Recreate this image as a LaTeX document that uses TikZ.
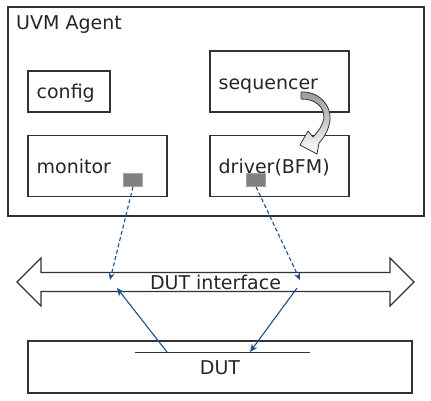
\documentclass[tikz,border=0pt]{standalone}
\usepackage{fontspec}
\setmainfont{DejaVu Sans}
\definecolor{LinkBlue}{RGB}{31, 78, 141}
\definecolor{PortGray}{RGB}{128, 128, 128}
\definecolor{EdgeGray}{RGB}{50, 50, 50}
\usetikzlibrary{arrows.meta, positioning, shapes.arrows}

\begin{document}
\begin{tikzpicture}[x=1pt, y=-1pt, every node/.style={font=\fontsize{19}{22}\selectfont, text=black!85},
    agentbox/.style={draw=EdgeGray, line width=1.1pt, rectangle, minimum width=416pt, minimum height=209pt, inner sep=0pt},
    unitbox/.style={draw=EdgeGray, line width=1.1pt, rectangle, minimum width=139pt, minimum height=61pt, inner sep=0pt},
    tag/.style={anchor=base west, inner sep=0pt},
    port/.style={fill=PortGray, draw=PortGray!70, rectangle, minimum width=19pt, minimum height=13pt, inner sep=0pt},
    probe/.style={LinkBlue, line width=1.1pt, dash pattern=on 4pt off 2.5pt, -{Stealth[length=7pt, width=6pt]}},
    wire/.style={LinkBlue, line width=1.1pt, -{Stealth[length=8pt, width=7pt]}}]
    \useasboundingbox (0,0) rectangle (431,400);

    % agent and its parts
    \node[agentbox] (agent) at (216,111.5) {};
    \node[anchor=west, inner sep=0pt] (agentlbl) at (16,25) {UVM Agent};
    \node[unitbox, minimum width=82pt, minimum height=41pt] (config) at (69,91.5) {};
    \node[unitbox, below right=22pt and 0pt of config.south west] (monitor) {};
    \node[unitbox] (seq) at (279.5,81.5) {};
    \node[unitbox, below=22pt of seq] (driver) {};
    \node[tag] (configlbl) at ([xshift=9pt, yshift=-6.5pt]config.west) {config};
    \node[tag] (monitorlbl) at ([xshift=9pt, yshift=-7.5pt]monitor.west) {monitor};
    \node[tag] (seqlbl) at ([xshift=9pt, yshift=-7.5pt]seq.west) {sequencer};
    \node[tag] (driverlbl) at ([xshift=9pt, yshift=-7.5pt]driver.west) {driver(BFM)};
    \node[port] (mport) at (133,180) {};
    \node[port] (dport) at (256,180) {};

    % item handoff sequencer -> driver
    \draw[draw=EdgeGray, line width=0.8pt, shade, top color=black!40, middle color=white, bottom color=white, line join=round]
        (301,92) .. controls (322,91) and (334,110) .. (329,125)
        .. controls (327,133) and (323,139) .. (319,143)
        -- (317,154) -- (300,145) -- (308,131) -- (313,137)
        .. controls (318,132) and (323,125) .. (324,118)
        .. controls (324,106) and (315,99) .. (301,99) -- cycle;

    % interface and DUT
    \node[double arrow, draw=EdgeGray, line width=1.1pt, minimum width=48pt, minimum height=397pt,
          double arrow head extend=12pt, inner sep=0pt] (bus) at (215.5,282) {DUT interface};
    \node[draw=EdgeGray, line width=1.1pt, rectangle, minimum width=384pt, minimum height=52pt, inner sep=0pt] (dut) at (220,367) {};
    \node[inner sep=0pt] (dutlbl) at (220,368) {DUT};
    \coordinate (pinl) at (135,352);
    \coordinate (pinr) at (310,352);
    \draw[EdgeGray, line width=0.9pt] (pinl) -- (pinr);

    \coordinate (monin) at (110,280);
    \coordinate (drvin) at (300,280);
    \coordinate (dutout) at (117,288);
    \coordinate (dutin) at (297,288);
    \coordinate (pinmon) at (167,352);
    \coordinate (pindrv) at (250,352);

    \draw[probe] (mport.south) -- (monin);
    \draw[probe] (dport.south) -- (drvin);
    \draw[wire] (pinmon) -- (dutout);
    \draw[wire] (dutin) -- (pindrv);
\end{tikzpicture}
\end{document}
